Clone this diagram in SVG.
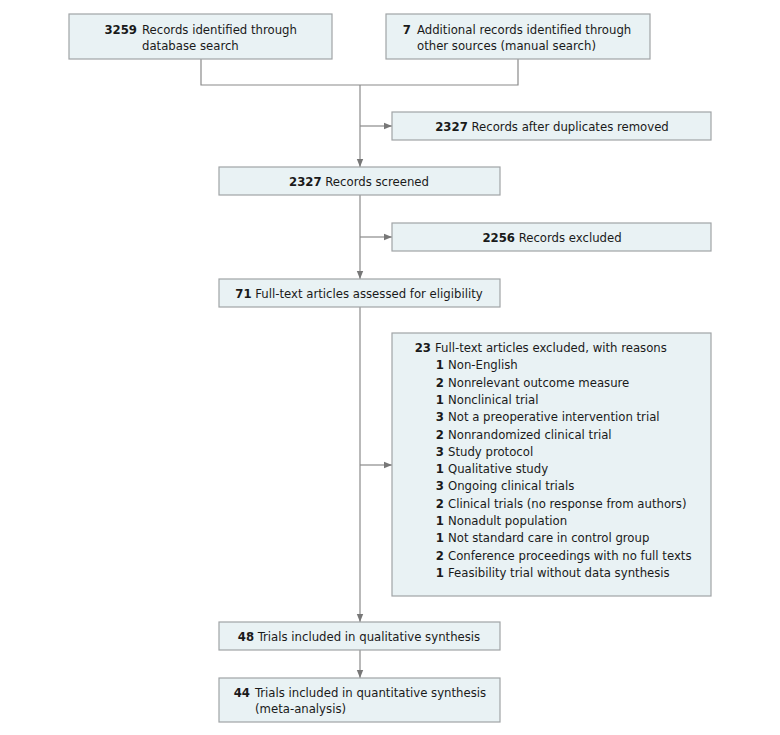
<svg xmlns="http://www.w3.org/2000/svg" width="780" height="735" viewBox="0 0 780 735">
<defs>
<marker id="ah" viewBox="0 0 10 10" refX="10" refY="5" markerWidth="8" markerHeight="8" markerUnits="userSpaceOnUse" orient="auto">
<path d="M0,1 L10,5 L0,9 Z" fill="#777"/>
</marker>
<style>
.box{fill:#e9f2f4;stroke:#a0a4a6;stroke-width:1.2}
.ln{fill:none;stroke:#8a8a8a;stroke-width:1.2}
text{font-family:"DejaVu Sans Condensed","Liberation Sans Narrow","Liberation Sans",sans-serif;font-stretch:condensed;font-size:13px;fill:#1a1a1a}
.b{font-weight:bold}
.c{text-anchor:middle}
.r{text-anchor:end}
</style>
</defs>
<rect width="780" height="735" fill="#fff"/>
<g id="connectors">
<path class="ln" d="M201,59 V85 H518 V59"/>
<path class="ln" d="M360,85 V167" marker-end="url(#ah)"/>
<path class="ln" d="M360,126 H392" marker-end="url(#ah)"/>
<path class="ln" d="M360,195 V279" marker-end="url(#ah)"/>
<path class="ln" d="M360,237 H392" marker-end="url(#ah)"/>
<path class="ln" d="M360,307 V622" marker-end="url(#ah)"/>
<path class="ln" d="M360,465 H392" marker-end="url(#ah)"/>
<path class="ln" d="M360,650 V678" marker-end="url(#ah)"/>
</g>
<g id="n1">
<rect class="box" x="69" y="14" width="263" height="45"/>
<text class="b r" x="137" y="34">3259</text>
<text x="142" y="34">Records identified through</text>
<text x="142" y="50">database search</text>
</g>
<g id="n2">
<rect class="box" x="386" y="14" width="264" height="45"/>
<text class="b r" x="411" y="34">7</text>
<text x="417" y="34">Additional records identified through</text>
<text x="417" y="50">other sources (manual search)</text>
</g>
<g id="n3">
<rect class="box" x="392" y="112" width="319" height="28"/>
<text class="c" x="552" y="131"><tspan class="b">2327</tspan>  Records after duplicates removed</text>
</g>
<g id="n4">
<rect class="box" x="219" y="167" width="281" height="28"/>
<text class="c" x="359" y="186"><tspan class="b">2327</tspan>  Records screened</text>
</g>
<g id="n5">
<rect class="box" x="392" y="223" width="319" height="28"/>
<text class="c" x="552" y="242"><tspan class="b">2256</tspan>  Records excluded</text>
</g>
<g id="n6">
<rect class="box" x="219" y="279" width="281" height="28"/>
<text class="c" x="359" y="298"><tspan class="b">71</tspan>  Full-text articles assessed for eligibility</text>
</g>
<g id="n7">
<rect class="box" x="392" y="333" width="319" height="263"/>
<text class="b r" x="431" y="352">23</text>
<text x="435" y="352">Full-text articles excluded, with reasons</text>
<g class="items">
<text class="b r" x="444" y="369.3">1</text><text x="448" y="369.3">Non-English</text>
<text class="b r" x="444" y="386.6">2</text><text x="448" y="386.6">Nonrelevant outcome measure</text>
<text class="b r" x="444" y="403.9">1</text><text x="448" y="403.9">Nonclinical trial</text>
<text class="b r" x="444" y="421.2">3</text><text x="448" y="421.2">Not a preoperative intervention trial</text>
<text class="b r" x="444" y="438.5">2</text><text x="448" y="438.5">Nonrandomized clinical trial</text>
<text class="b r" x="444" y="455.8">3</text><text x="448" y="455.8">Study protocol</text>
<text class="b r" x="444" y="473.1">1</text><text x="448" y="473.1">Qualitative study</text>
<text class="b r" x="444" y="490.4">3</text><text x="448" y="490.4">Ongoing clinical trials</text>
<text class="b r" x="444" y="507.7">2</text><text x="448" y="507.7">Clinical trials (no response from authors)</text>
<text class="b r" x="444" y="525">1</text><text x="448" y="525">Nonadult population</text>
<text class="b r" x="444" y="542.3">1</text><text x="448" y="542.3">Not standard care in control group</text>
<text class="b r" x="444" y="559.6">2</text><text x="448" y="559.6">Conference proceedings with no full texts</text>
<text class="b r" x="444" y="576.9">1</text><text x="448" y="576.9">Feasibility trial without data synthesis</text>
</g>
</g>
<g id="n8">
<rect class="box" x="219" y="622" width="281" height="28"/>
<text class="c" x="359" y="641"><tspan class="b">48</tspan>  Trials included in qualitative synthesis</text>
</g>
<g id="n9">
<rect class="box" x="219" y="678" width="281" height="44"/>
<text class="b r" x="250" y="697">44</text>
<text x="255" y="697">Trials included in quantitative synthesis</text>
<text x="255" y="713">(meta-analysis)</text>
</g>
</svg>
